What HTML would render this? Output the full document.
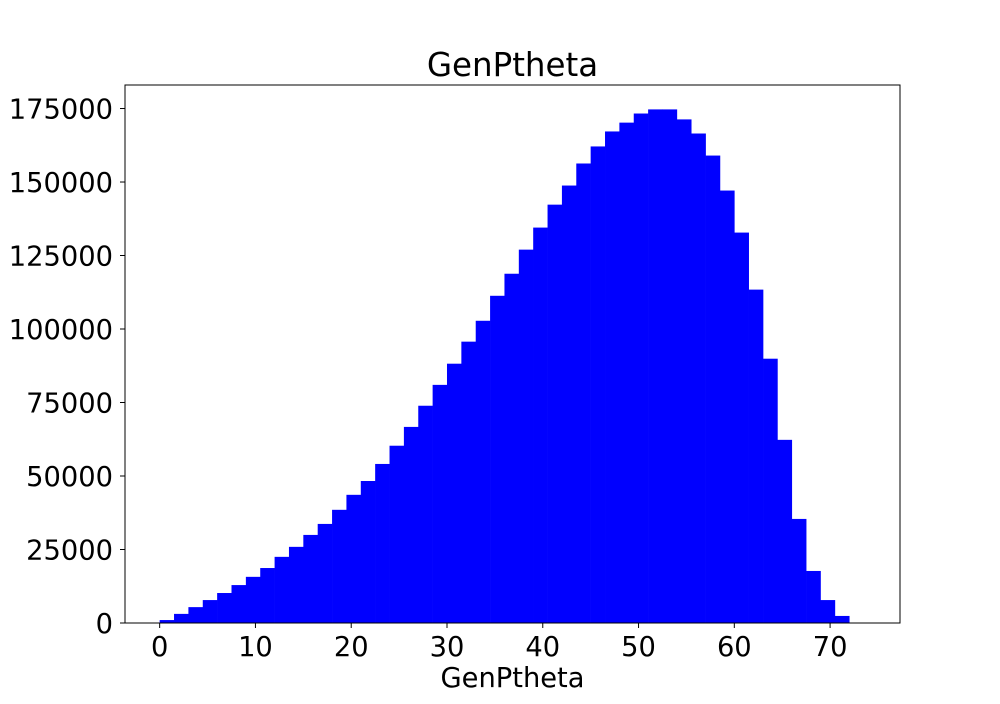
<!DOCTYPE html>
<html><head><meta charset="utf-8"><style>
body{margin:0;background:#fff;font-family:"DejaVu Sans","Liberation Sans",sans-serif;}
</style></head><body>
<svg id="chart" width="1000" height="700" xmlns="http://www.w3.org/2000/svg" font-family="DejaVu Sans, Liberation Sans, sans-serif">
<rect width="1000" height="700" fill="#fff"/>
<text x="512.5" y="76" text-anchor="middle" font-size="32.5">GenPtheta</text>
<text x="512.5" y="687" text-anchor="middle" font-size="27.3">GenPtheta</text>
<g id="bars"></g>
<g id="axes"></g>
<rect x="125" y="85" width="775" height="538" fill="none" stroke="#000" stroke-width="1"/>
</svg>
<script>
const binStart = 0;
const binWidth = 1.5;
const counts = [1000,3100,5400,7800,10200,12900,15700,18700,22500,25900,
29960,33700,38500,43600,48300,54100,60300,66700,73900,81000,
88200,95700,102800,111300,118800,127000,134500,142300,148800,156300,
162100,167200,170200,173300,174700,174700,171300,166500,159000,147100,
132800,113400,89900,62300,35400,17700,7800,2400];
const xTicks = [0,10,20,30,40,50,60,70];
const yTicks = [0,25000,50000,75000,100000,125000,150000,175000];

const L=125,R=900,T=85,B=623;
const xMin=-3.62,xMax=77.3,yMax=183000;
function xs(v){return L+(v-xMin)/(xMax-xMin)*(R-L);}
function ys(v){return B-v/yMax*(B-T);}
const NS="http://www.w3.org/2000/svg";
const bars=document.getElementById('bars');
counts.forEach((c,i)=>{
  const x0=xs(binStart+i*binWidth),x1=xs(binStart+(i+1)*binWidth);
  const r=document.createElementNS(NS,'rect');
  r.setAttribute('x',x0);r.setAttribute('width',x1-x0+0.3);
  r.setAttribute('y',ys(c));r.setAttribute('height',B-ys(c));
  r.setAttribute('fill','#0000ff');
  
  
  bars.appendChild(r);
});
const axes=document.getElementById('axes');
xTicks.forEach(t=>{
  const x=xs(t);
  const l=document.createElementNS(NS,'line');
  l.setAttribute('x1',x);l.setAttribute('x2',x);l.setAttribute('y1',B);l.setAttribute('y2',B+5);
  l.setAttribute('stroke','#000');
  
  
  axes.appendChild(l);
  const tx=document.createElementNS(NS,'text');
  tx.setAttribute('x',x);tx.setAttribute('y',B+33);tx.setAttribute('text-anchor','middle');
  tx.setAttribute('font-size','27.3');
  tx.textContent=t;
  
  
  axes.appendChild(tx);
});
yTicks.forEach(t=>{
  const y=ys(t);
  const l=document.createElementNS(NS,'line');
  l.setAttribute('x1',L-5);l.setAttribute('x2',L);l.setAttribute('y1',y);l.setAttribute('y2',y);
  l.setAttribute('stroke','#000');
  
  
  axes.appendChild(l);
  const tx=document.createElementNS(NS,'text');
  tx.setAttribute('x',L-12);tx.setAttribute('y',y+10);tx.setAttribute('text-anchor','end');
  tx.setAttribute('font-size','27.3');
  tx.textContent=t;
  
  
  axes.appendChild(tx);
});
</script>
</body></html>
